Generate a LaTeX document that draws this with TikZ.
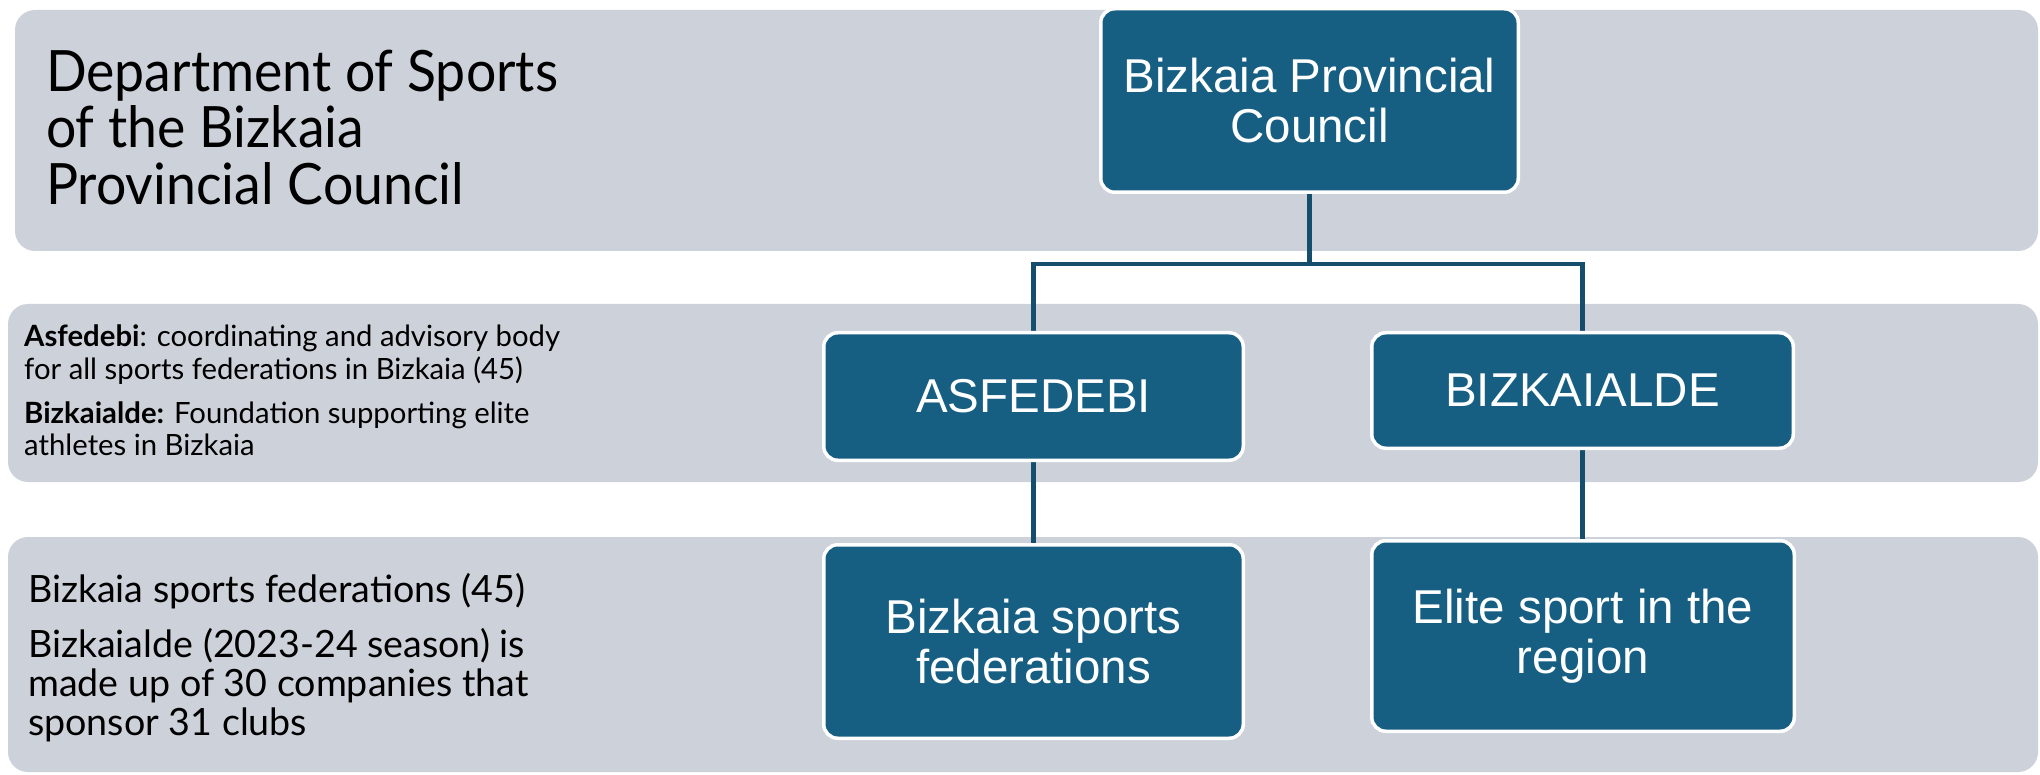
\documentclass[tikz,border=0pt]{standalone}
\usepackage{fontspec}
\newfontfamily\latof{Lato}
\newfontfamily\latocond[FakeStretch=0.94]{Lato}
\newfontfamily\arialf{Liberation Sans}
\definecolor{bandgray}{RGB}{205,209,217}
\definecolor{boxblue}{RGB}{23,95,130}
\definecolor{linkblue}{RGB}{20,78,108}
\pgfdeclarelayer{bands}
\pgfdeclarelayer{links}
\pgfsetlayers{bands,links,main}
\begin{document}
\begin{tikzpicture}[x=1pt,y=-1pt,
  band/.style={fill=bandgray, rounded corners=20pt},
  orgbox/.style={draw=white, line width=3.5pt, fill=boxblue, rounded corners=14pt,
    text=white, font=\arialf\fontsize{47.5}{50}\selectfont, align=center, inner sep=0pt},
  link/.style={draw=linkblue, line width=4.5pt},
  titletext/.style={anchor=base west, inner sep=0pt, font=\latocond\fontsize{57}{60}\selectfont},
  notetext/.style={anchor=base west, inner sep=0pt, font=\latof\fontsize{29.3}{32}\selectfont},
  desctext/.style={anchor=base west, inner sep=0pt, font=\latof\fontsize{37.6}{40}\selectfont}]
\useasboundingbox (0,0) rectangle (2040,775);

% bands
\begin{pgfonlayer}{bands}
\fill[band] (15,10) rectangle (2038,251);
\fill[band] (8,304) rectangle (2038,482);
\fill[band] (8,537) rectangle (2038,772);
\end{pgfonlayer}

% left texts
\node[titletext] (t1) at (46,92) {Department of Sports};
\node[titletext] (t2) at (46,148) {of the Bizkaia};
\node[titletext] (t3) at (46,205) {Provincial Council};

\node[notetext] (n1) at (24,347) {{\bfseries Asfedebi}: coordinating and advisory body};
\node[notetext] (n2) at (24,380) {for all sports federations in Bizkaia (45)};
\node[notetext] (n3) at (24,424) {{\bfseries Bizkaialde:} Foundation supporting elite};
\node[notetext] (n4) at (24,455) {athletes in Bizkaia};

\node[desctext] (d1) at (28,602) {Bizkaia sports federations (45)};
\node[desctext] (d2) at (28,657) {Bizkaialde (2023-24 season) is};
\node[desctext] (d3) at (28,696) {made up of 30 companies that};
\node[desctext] (d4) at (28,735) {sponsor 31 clubs};

% boxes
\node[orgbox, minimum width=417.5pt, minimum height=183.5pt] (pc) at (1309.5,100.5) {Bizkaia Provincial\\Council};
\node[orgbox, minimum width=419.5pt, minimum height=127.5pt] (asf) at (1033.5,396.5) {ASFEDEBI};
\node[orgbox, minimum width=421.5pt, minimum height=115.5pt] (biz) at (1582.5,390.5) {BIZKAIALDE};
\node[orgbox, minimum width=419.5pt, minimum height=193.5pt] (fed) at (1033.5,641.5) {Bizkaia sports\\federations};
\node[orgbox, minimum width=422.5pt, minimum height=190.5pt] (elite) at (1583,636) {Elite sport in the\\region};

% connectors
\coordinate (hub) at (1309.5,264);
\begin{pgfonlayer}{links}
\draw[link] (pc.south) -- (hub);
\draw[link] (asf.north) |- (hub) -| (biz.north);
\draw[link] (asf.south) -- (fed.north);
\draw[link] (biz.south) -- (biz.south |- elite.north);
\end{pgfonlayer}
\end{tikzpicture}
\end{document}
